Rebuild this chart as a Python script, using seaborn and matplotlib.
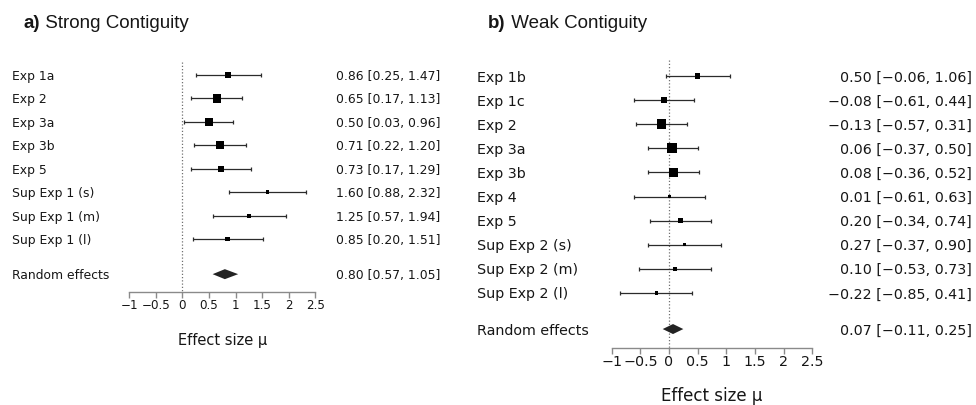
import numpy as np
import pandas as pd
import matplotlib
matplotlib.use("Agg")
import matplotlib.pyplot as plt
import matplotlib.transforms as mtransforms
import seaborn as sns

# ---- (a) strong contiguity ----
a_labels = ["Exp 1a", "Exp 2", "Exp 3a", "Exp 3b", "Exp 5",
            "Sup Exp 1 (s)", "Sup Exp 1 (m)", "Sup Exp 1 (l)"]
a_est = [0.86, 0.65, 0.50, 0.71, 0.73, 1.60, 1.25, 0.85]
a_lo = [0.25, 0.17, 0.03, 0.22, 0.17, 0.88, 0.57, 0.20]
a_hi = [1.47, 1.13, 0.96, 1.20, 1.29, 2.32, 1.94, 1.51]
a_pooled = [0.80, 0.57, 1.05]  # estimate, lower, upper

# ---- (b) weak contiguity ----
b_labels = ["Exp 1b", "Exp 1c", "Exp 2", "Exp 3a", "Exp 3b", "Exp 4", "Exp 5",
            "Sup Exp 2 (s)", "Sup Exp 2 (m)", "Sup Exp 2 (l)"]
b_est = [0.50, -0.08, -0.13, 0.06, 0.08, 0.01, 0.20, 0.27, 0.10, -0.22]
b_lo = [-0.06, -0.61, -0.57, -0.37, -0.36, -0.61, -0.34, -0.37, -0.53, -0.85]
b_hi = [1.06, 0.44, 0.31, 0.50, 0.52, 0.63, 0.74, 0.90, 0.73, 0.41]
b_pooled = [0.07, -0.11, 0.25]

x_ticks = [-1, -0.5, 0, 0.5, 1, 1.5, 2, 2.5]
pooled_label = "Random effects"
x_title = "Effect size \u03bc"

W, H = 976, 405
sns.set_theme(style="white")
plt.rcParams["font.family"] = ["DejaVu Sans"]
TEXT = "#161616"

fig = plt.figure(figsize=(W / 100, H / 100), dpi=100)


def fmt(v):
    return f"{v:.2f}".replace("-", "\u2212")


def tick_text(v):
    return f"{v:g}".replace("-", "\u2212")


def draw_panel(labels, est, lo, hi, pooled, *, left_px, right_px, zero_px, unit_px,
               row0_px, step_px, axis_px, ref_top_px, side_range, label_px,
               value_px, fs, tick_fs, xlabel_fs, xlabel_y_px):
    ax = fig.add_axes([left_px / W, 0, (right_px - left_px) / W, 1])
    ax.patch.set_alpha(0)
    ax.set_xlim((left_px - zero_px) / unit_px, (right_px - zero_px) / unit_px)
    ax.set_ylim(1 + (H - row0_px) / step_px, 1 - row0_px / step_px)

    n = len(labels)
    df = pd.DataFrame({"label": labels, "est": est, "lo": lo, "hi": hi,
                       "row": np.arange(1, n + 1, dtype=float)})
    # inverse-variance weights set the square size
    w = 1.0 / ((df["hi"] - df["lo"]) / 3.92) ** 2
    smin, smax = side_range
    side_px = smin + (w - w.min()) / (w.max() - w.min()) * (smax - smin)
    df["area"] = (side_px * 0.72) ** 2

    axis_k = 1 + (axis_px - row0_px) / step_px
    top_k = 1 + (ref_top_px - row0_px) / step_px
    pooled_k = n + 1.5

    # reference line at zero
    ax.vlines(0, top_k, axis_k, colors="#707070", linestyles=(0, (1, 1.6)),
              linewidth=0.9, zorder=1)

    # confidence intervals
    ax.errorbar(df["est"], df["row"], xerr=[df["est"] - df["lo"], df["hi"] - df["est"]],
                fmt="none", ecolor="#2b2b2b", elinewidth=0.9, capsize=1.5,
                capthick=0.9, zorder=2)

    # study estimates
    sns.scatterplot(data=df, x="est", y="row", size="area",
                    sizes=(df["area"].min(), df["area"].max()),
                    marker="s", color="black", linewidth=0, legend=False,
                    ax=ax, zorder=3)

    # pooled estimate diamond
    p_est, p_lo, p_hi = pooled
    half_h = 5.0 / step_px
    ax.fill([p_lo, p_est, p_hi, p_est],
            [pooled_k, pooled_k - half_h, pooled_k, pooled_k + half_h],
            color="#232323", linewidth=0, zorder=3)

    # axis
    for side in ["left", "right", "top"]:
        ax.spines[side].set_visible(False)
    sp = ax.spines["bottom"]
    sp.set_position(("data", axis_k))
    sp.set_bounds(x_ticks[0], x_ticks[-1])
    sp.set_color("#8a8a8a")
    sp.set_linewidth(1.0)
    ax.set_xticks(x_ticks)
    ax.set_xticklabels([tick_text(t) for t in x_ticks])
    ax.tick_params(axis="x", bottom=True, direction="out", length=4.3, width=1.0,
                   color="#8a8a8a", pad=1, labelsize=tick_fs, labelcolor=TEXT)
    ax.set_yticks([])
    ax.set_xlabel("")
    ax.set_ylabel("")

    # row labels and value columns
    trans = mtransforms.blended_transform_factory(fig.transFigure, ax.transData)
    rows = list(df["row"]) + [pooled_k]
    names = list(labels) + [pooled_label]
    vals = list(zip(est, lo, hi)) + [tuple(pooled)]
    for r, name, (e, l, h) in zip(rows, names, vals):
        ax.text(label_px / W, r, name, transform=trans, ha="left",
                va="center_baseline", fontsize=fs, color=TEXT)
        ax.text(value_px / W, r, f"{fmt(e)} [{fmt(l)}, {fmt(h)}]", transform=trans,
                ha="right", va="center_baseline", fontsize=fs, color=TEXT)

    center_px = zero_px + unit_px * (x_ticks[0] + x_ticks[-1]) / 2
    fig.text(center_px / W, 1 - xlabel_y_px / H, x_title, ha="center",
             va="center", fontsize=xlabel_fs, color=TEXT)
    return ax


draw_panel(a_labels, a_est, a_lo, a_hi, a_pooled,
           left_px=0, right_px=480, zero_px=182.3, unit_px=53.2,
           row0_px=75, step_px=23.43, axis_px=292, ref_top_px=62,
           side_range=(3.7, 8.7), label_px=12, value_px=440,
           fs=8.9, tick_fs=8.6, xlabel_fs=10.5, xlabel_y_px=340)

draw_panel(b_labels, b_est, b_lo, b_hi, b_pooled,
           left_px=470, right_px=976, zero_px=669, unit_px=57.3,
           row0_px=76, step_px=24.1, axis_px=347.5, ref_top_px=60,
           side_range=(3.5, 10.0), label_px=477, value_px=972,
           fs=10.3, tick_fs=10.3, xlabel_fs=12, xlabel_y_px=396)

# panel titles: bold letter followed by regular text
renderer = fig.canvas.get_renderer()
for x_px, letter, title in [(24, "a)", "Strong Contiguity"), (488, "b)", "Weak Contiguity")]:
    y = 1 - 28.5 / H
    t = fig.text(x_px / W, y, letter, fontsize=13.5, fontweight="bold",
                 family=["Liberation Sans"], color=TEXT, va="baseline")
    bb = t.get_window_extent(renderer)
    fig.text(bb.x1 / W, y, " " + title, fontsize=13.5, family=["Liberation Sans"],
             color=TEXT, va="baseline")

fig.savefig("out.png", dpi=100)
